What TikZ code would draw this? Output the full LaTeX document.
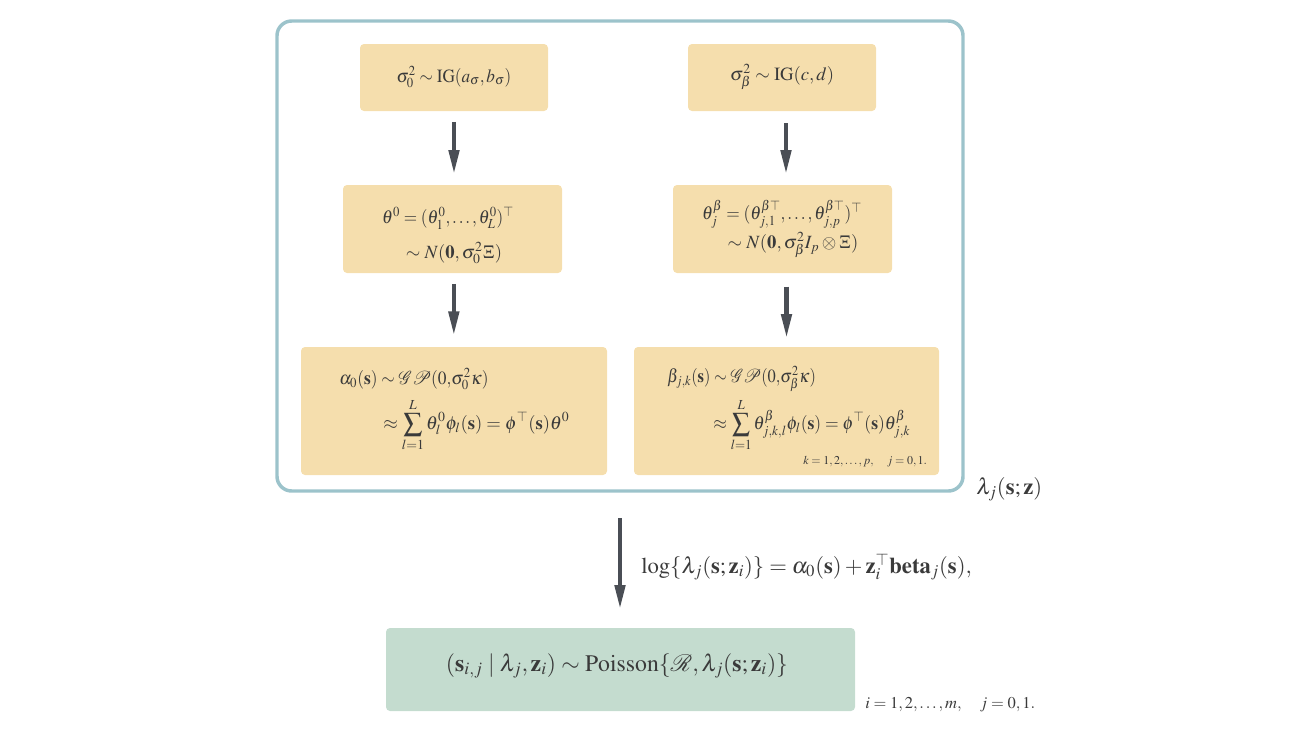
\documentclass[tikz,border=0pt]{standalone}
\usepackage{amsmath}
\usepackage{mathptmx}
\usepackage[no-math]{fontspec}
\setmainfont{Liberation Serif}
\usetikzlibrary{arrows.meta}
\definecolor{boxfill}{HTML}{F5DEAD}
\definecolor{framecol}{HTML}{9CC3CB}
\definecolor{greenfill}{HTML}{C4DCCF}
\definecolor{arrowcol}{HTML}{4A4E55}
\definecolor{txt}{HTML}{3A3A3A}
\newcommand{\sqx}[2]{\scalebox{#1}[1]{#2}}
\begin{document}
\begin{tikzpicture}[x=0.75pt,y=-0.75pt,
  ybox/.style={rectangle,rounded corners=3pt,fill=boxfill,inner sep=0pt},
  gbox/.style={rectangle,rounded corners=3pt,fill=greenfill,inner sep=0pt},
  frame/.style={rectangle,rounded corners=11pt,draw=framecol,line width=2.6pt,inner sep=0pt},
  mtext/.style={text=txt,inner sep=0pt,font=\fontsize{14}{17}\selectfont},
  ltext/.style={text=txt,inner sep=0pt,font=\fontsize{17}{20}\selectfont},
  gtext/.style={text=txt,inner sep=0pt,font=\fontsize{17.8}{21}\selectfont},
  stext/.style={text=txt,inner sep=0pt,font=\fontsize{9}{11}\selectfont},
  s2text/.style={text=txt,inner sep=0pt,font=\fontsize{12.4}{15}\selectfont},
  flow/.style={draw=arrowcol,line width=3.4pt,-{Triangle[length=18.5pt,width=7.5pt]}}
]
\useasboundingbox (0,0) rectangle (1316,728);
% frame
\node[frame,minimum width=514.5pt,minimum height=352.5pt] (frame) at (620,256) {};
% boxes
\node[ybox,minimum width=141pt,minimum height=50.25pt] (b1) at (454,77.5) {};
\node[ybox,minimum width=141pt,minimum height=50.25pt] (b2) at (782,77.5) {};
\node[ybox,minimum width=164.25pt,minimum height=66pt] (b3) at (452.5,229) {};
\node[ybox,minimum width=164.25pt,minimum height=66pt] (b4) at (782.5,229) {};
\node[ybox,minimum width=229.5pt,minimum height=96pt] (b5) at (454,411) {};
\node[ybox,minimum width=228.75pt,minimum height=96pt] (b6) at (786.5,411) {};
\node[gbox,minimum width=351.75pt,minimum height=62.25pt] (g) at (620.5,669.5) {};
% texts
\node[mtext] (t1) at (454,77) {\sqx{0.92}{$\sigma_0^2 \sim \mathrm{IG}(a_\sigma, b_\sigma)$}};
\node[mtext] (t2) at (782,77) {$\sigma_\beta^2 \sim \mathrm{IG}(c, d)$};
\node[mtext] (t3a) at (448,218) {\sqx{0.92}{$\theta^0 = (\theta_1^0, \ldots, \theta_L^0)^{\top}$}};
\node[mtext] (t3b) at (454,253) {$\sim N(\mathbf{0}, \sigma_0^2 \Xi)$};
\node[mtext] (t4a) at (782,214) {\sqx{0.93}{$\theta_j^\beta = (\theta_{j,1}^{\beta\top}, \ldots, \theta_{j,p}^{\beta\top})^{\top}$}};
\node[mtext] (t4b) at (793,245) {$\sim N(\mathbf{0}, \sigma_\beta^2 I_p \otimes \Xi)$};
\node[mtext,anchor=west] (t5a) at (339,379) {\sqx{0.93}{$\alpha_0(\mathbf{s}) \sim \mathcal{GP}(0{,}\sigma_0^2\kappa)$}};
\node[mtext,anchor=west] (t5b) at (383,425) {$\displaystyle\approx \sum_{l=1}^{L} \theta_l^0 \phi_l(\mathbf{s}) = \phi^{\top}(\mathbf{s})\theta^0$};
\node[mtext,anchor=west] (t6a) at (667,379) {\sqx{0.88}{$\beta_{j,k}(\mathbf{s}) \sim \mathcal{GP}(0{,}\sigma_\beta^2\kappa)$}};
\node[mtext,anchor=west] (t6b) at (713,425) {\sqx{0.94}{$\displaystyle\approx \sum_{l=1}^{L} \theta_{j,k,l}^\beta \phi_l(\mathbf{s}) = \phi^{\top}(\mathbf{s})\theta_{j,k}^\beta$}};
\node[stext,anchor=west] (t6c) at (803,462) {$k = 1,2,\ldots,p, \quad j = 0,1.$};
\node[ltext,anchor=west] (lam) at (976,489) {$\lambda_j(\mathbf{s};\mathbf{z})$};
\node[ltext,anchor=west] (loglab) at (641,567) {$\log\{\lambda_j(\mathbf{s};\mathbf{z}_i)\} = \alpha_0(\mathbf{s}) + \mathbf{z}_i^{\top}\mathbf{beta}_j(\mathbf{s}),$};
\node[gtext] (tg) at (617,666) {$(\mathbf{s}_{i,j} \mid \lambda_j, \mathbf{z}_i) \sim \mathrm{Poisson}\{\mathcal{R}, \lambda_j(\mathbf{s};\mathbf{z}_i)\}$};
\node[s2text,anchor=west] (tgc) at (865,705) {$i = 1,2,\ldots,m, \quad j = 0,1.$};
% arrows
\draw[flow,shorten <=8pt,shorten >=7.5pt] (b1.south) -- (b1.south |- b3.north);
\draw[flow,shorten <=9pt,shorten >=7.5pt] ([xshift=3pt]b2.south) -- ([xshift=3pt]b2.south |- b4.north);
\draw[flow,shorten <=8pt,shorten >=8pt] ([xshift=1pt]b3.south) -- ([xshift=1pt]b3.south |- b5.north);
\draw[flow,shorten <=10pt,shorten >=6pt] ([xshift=3pt]b4.south) -- ([xshift=3pt]b4.south |- b6.north);
\draw[flow,shorten <=19pt,shorten >=13.5pt] (frame.south) -- (frame.south |- g.north);
\end{tikzpicture}
\end{document}
